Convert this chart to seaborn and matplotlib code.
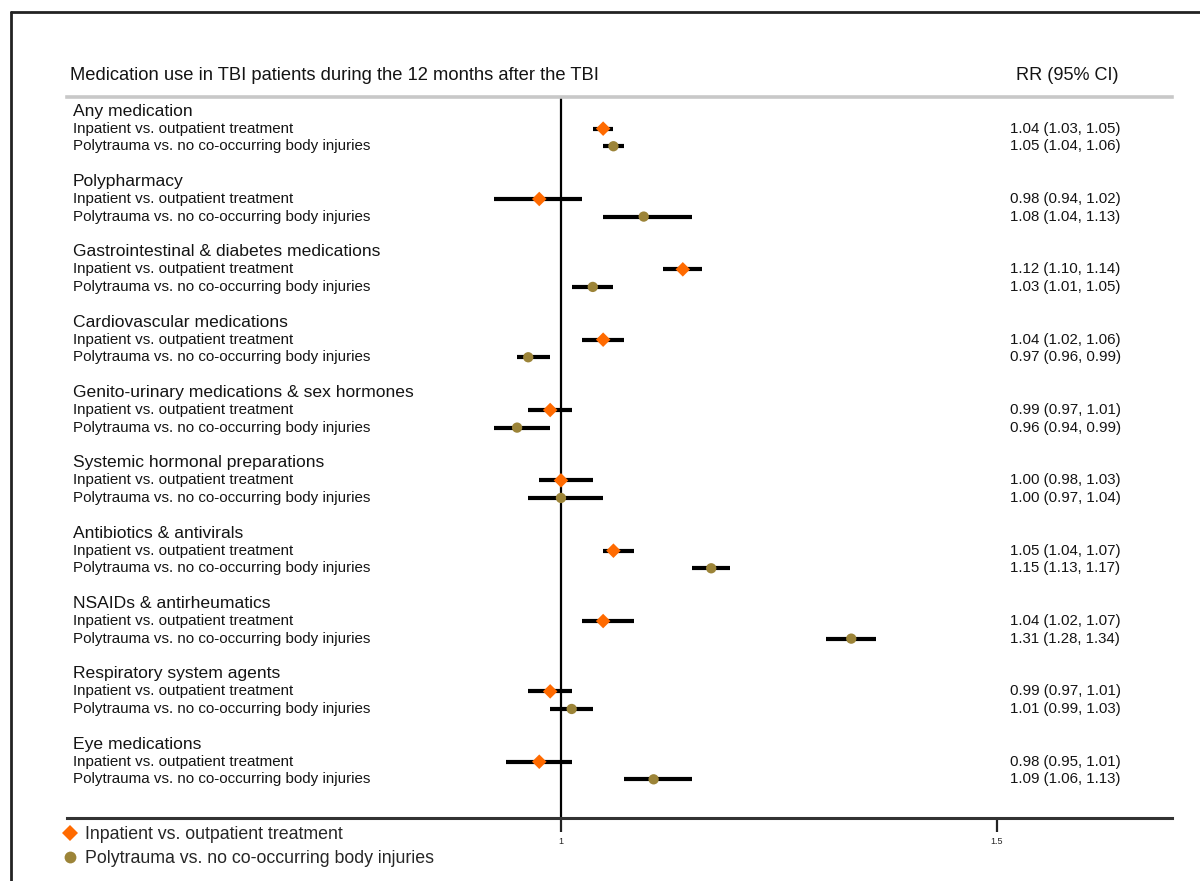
import numpy as np
import pandas as pd
import matplotlib
matplotlib.use("Agg")
import matplotlib.pyplot as plt
from matplotlib.lines import Line2D
import seaborn as sns

# Medication groups and rate ratios (RR with 95% CI)
groups = [
    "Any medication",
    "Polypharmacy",
    "Gastrointestinal & diabetes medications",
    "Cardiovascular medications",
    "Genito-urinary medications & sex hormones",
    "Systemic hormonal preparations",
    "Antibiotics & antivirals",
    "NSAIDs & antirheumatics",
    "Respiratory system agents",
    "Eye medications",
]
comparisons = [
    "Inpatient vs. outpatient treatment",
    "Polytrauma vs. no co-occurring body injuries",
]

inpatient_rr = [1.04, 0.98, 1.12, 1.04, 0.99, 1.00, 1.05, 1.04, 0.99, 0.98]
inpatient_lo = [1.03, 0.94, 1.10, 1.02, 0.97, 0.98, 1.04, 1.02, 0.97, 0.95]
inpatient_hi = [1.05, 1.02, 1.14, 1.06, 1.01, 1.03, 1.07, 1.07, 1.01, 1.01]

polytrauma_rr = [1.05, 1.08, 1.03, 0.97, 0.96, 1.00, 1.15, 1.31, 1.01, 1.09]
polytrauma_lo = [1.04, 1.04, 1.01, 0.96, 0.94, 0.97, 1.13, 1.28, 0.99, 1.06]
polytrauma_hi = [1.06, 1.13, 1.05, 0.99, 0.99, 1.04, 1.17, 1.34, 1.03, 1.13]

x_ticks = [1, 1.5]
x_tick_labels = ["1", "1.5"]

header_left = "Medication use in TBI patients during the 12 months after the TBI"
header_right = "RR (95% CI)"

ORANGE = "#FF6A00"
OLIVE = "#9C8438"
TEXT = "#141414"

# Long-format table: each group has a title line, then one line per comparison
rows = []
for g, name in enumerate(groups):
    base = g * 4
    for k, (comp, rr, lo, hi) in enumerate(zip(
            comparisons,
            (inpatient_rr[g], polytrauma_rr[g]),
            (inpatient_lo[g], polytrauma_lo[g]),
            (inpatient_hi[g], polytrauma_hi[g]))):
        rows.append(dict(group=name, comparison=comp, rr=rr, lo=lo, hi=hi,
                         row=base + 1 + k))
df = pd.DataFrame(rows)

sns.set_theme(style="white")
plt.rcParams["font.family"] = ["Liberation Sans", "DejaVu Sans"]

W, H = 1200, 881
fig = plt.figure(figsize=(W / 100, H / 100), dpi=100)
fig.patch.set_facecolor("white")

left_px, right_px, top_px, bottom_px = 67, 1172, 97, 818
ax = fig.add_axes([left_px / W, 1 - bottom_px / H,
                   (right_px - left_px) / W, (bottom_px - top_px) / H])

# Confidence-interval bars
ax.hlines(df["row"], df["lo"], df["hi"], color="black", lw=3, zorder=2)

# Point estimates
sns.scatterplot(data=df, x="rr", y="row", hue="comparison", style="comparison",
                hue_order=comparisons, style_order=comparisons,
                palette=[ORANGE, OLIVE], markers=["D", "o"],
                s=55, linewidth=0, zorder=3, ax=ax)

ax.set_xscale("log")
ax.set_xlim(0.6316, 1.7654)
ax.set_ylim(40.2, -0.8)

# Reference line at RR = 1
ax.axvline(1, color="black", lw=1.6, zorder=1)

ax.set_xticks(x_ticks)
ax.set_xticklabels(x_tick_labels)
ax.xaxis.set_minor_locator(matplotlib.ticker.NullLocator())
ax.tick_params(axis="x", which="major", direction="out", length=10, width=1.6,
               color="#222222", labelsize=6.5, pad=4, bottom=True)
ax.set_yticks([])
ax.set_xlabel("")
ax.set_ylabel("")

for side in ("left", "right"):
    ax.spines[side].set_visible(False)
ax.spines["bottom"].set_color("#333333")
ax.spines["bottom"].set_linewidth(2.2)
ax.spines["top"].set_color("#c8c8c8")
ax.spines["top"].set_linewidth(2.6)

# Text columns: group titles, comparison labels, and RR (95% CI)
ytr = ax.get_yaxis_transform()
for g, name in enumerate(groups):
    ax.text(0.005, g * 4, name, transform=ytr, fontsize=12.6,
            va="center", ha="left", color=TEXT)
for _, r in df.iterrows():
    ax.text(0.005, r["row"], r["comparison"], transform=ytr, fontsize=10.9,
            va="center", ha="left", color=TEXT)
    ax.text(0.853, r["row"], f"{r['rr']:.2f} ({r['lo']:.2f}, {r['hi']:.2f})",
            transform=ytr, fontsize=10.8, va="center", ha="left", color=TEXT)

fig.text(70 / W, 1 - 75 / H, header_left, fontsize=13.2, va="center",
         ha="left", color=TEXT)
fig.text(1016 / W, 1 - 75 / H, header_right, fontsize=13.1, va="center",
         ha="left", color=TEXT)

# Legend below the axis
handles, labels = ax.get_legend_handles_labels()
ax.get_legend().remove()
for h in handles:
    h.set_markersize(8.5)
fig.legend(handles, labels, loc="upper left",
           bbox_to_anchor=(63 / W, 1 - 826 / H), frameon=False,
           fontsize=12.8, handlelength=0.8, handletextpad=0.45,
           labelspacing=0.38, borderpad=0, borderaxespad=0)

# Outer frame (open to the right and bottom)
fig.add_artist(Line2D([11 / W, 11 / W], [0, 1 - 12 / H],
                      transform=fig.transFigure, color="#222222", lw=2))
fig.add_artist(Line2D([11 / W, 1], [1 - 12 / H, 1 - 12 / H],
                      transform=fig.transFigure, color="#222222", lw=2))

fig.savefig("out.png", dpi=100)
